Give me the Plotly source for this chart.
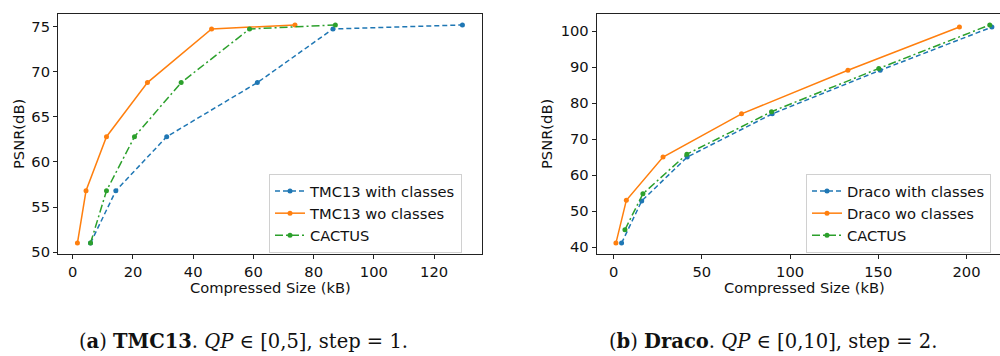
import plotly.graph_objects as go

# ---- data: (a) TMC13 ----
psnr_tmc = [51.0, 56.8, 62.8, 68.8, 74.75, 75.2]
size_tmc_with = [5.9, 14.3, 31.2, 61.3, 86.4, 129.4]
size_tmc_wo = [1.55, 4.4, 11.2, 24.8, 46.1, 73.8]
size_tmc_cactus = [5.9, 11.2, 20.5, 36.0, 58.7, 87.2]

# ---- data: (b) Draco ----
size_draco_with = [4.5, 15.9, 41.7, 89.9, 151.1, 214.4]
psnr_draco_with = [41.1, 52.8, 65.0, 77.0, 89.1, 101.1]
size_draco_wo = [1.3, 7.2, 28.0, 72.5, 132.8, 196.0]
psnr_draco_wo = [41.1, 53.0, 65.0, 77.0, 89.1, 101.1]
size_draco_cactus = [6.4, 16.6, 41.5, 89.5, 150.3, 213.2]
psnr_draco_cactus = [44.8, 54.8, 65.8, 77.6, 89.6, 101.7]

BLUE, ORANGE, GREEN = "#1f77b4", "#ff7f0e", "#2ca02c"
FONT = "DejaVu Sans"
FS = 14.7

fig = go.Figure()

def add(x, y, name, color, dash, xa, ya, legend):
    fig.add_trace(go.Scatter(
        x=x, y=y, name=name, mode="lines+markers",
        line=dict(color=color, width=1.5, dash=dash),
        marker=dict(color=color, size=5),
        xaxis=xa, yaxis=ya, legend=legend))

add(size_tmc_with, psnr_tmc, "TMC13 with classes", BLUE, "5px,3px", "x", "y", "legend")
add(size_tmc_wo, psnr_tmc, "TMC13 wo classes", ORANGE, "solid", "x", "y", "legend")
add(size_tmc_cactus, psnr_tmc, "CACTUS", GREEN, "8px,3px,2px,3px", "x", "y", "legend")

add(size_draco_with, psnr_draco_with, "Draco with classes", BLUE, "5px,3px", "x2", "y2", "legend2")
add(size_draco_wo, psnr_draco_wo, "Draco wo classes", ORANGE, "solid", "x2", "y2", "legend2")
add(size_draco_cactus, psnr_draco_cactus, "CACTUS", GREEN, "8px,3px,2px,3px", "x2", "y2", "legend2")

axis_common = dict(
    showgrid=False, zeroline=False, showline=True, linecolor="#222", linewidth=1.1,
    ticks="outside", ticklen=4, tickwidth=1, tickcolor="#222",
    tickfont=dict(family=FONT, size=FS, color="#111"), automargin=False,
)

legend_common = dict(
    bgcolor="rgba(255,255,255,0.85)", bordercolor="#d0d0d0", borderwidth=1,
    font=dict(family=FONT, size=FS, color="#111"), xanchor="left", yanchor="top",
    tracegroupgap=0, itemwidth=30,
)

ydom = [1 - 254 / 356, 1 - 14 / 356]

fig.update_layout(
    width=1000, height=356, margin=dict(l=0, r=0, t=0, b=0),
    paper_bgcolor="white", plot_bgcolor="white",
    xaxis=dict(domain=[0.058, 0.482], range=[-4.9, 135.9], anchor="y", mirror=True,
               tickvals=[0, 20, 40, 60, 80, 100, 120], **axis_common),
    yaxis=dict(domain=ydom, range=[49.79, 76.41], anchor="x", mirror=True,
               tickvals=[50, 55, 60, 65, 70, 75], **axis_common),
    xaxis2=dict(domain=[0.5967, 1.0], range=[-9.6, 219.0], anchor="y2", mirror=True,
                tickvals=[0, 50, 100, 150, 200], **axis_common),
    yaxis2=dict(domain=ydom, range=[38.07, 104.73], anchor="x2", mirror=False,
                tickvals=[40, 50, 60, 70, 80, 90, 100], **axis_common),
    legend=dict(x=0.269, y=1 - 174 / 356, **legend_common),
    legend2=dict(x=0.806, y=1 - 174 / 356, **legend_common),
    showlegend=True,
)

TF = dict(family=FONT, size=FS, color="#111")
ann = []
ann.append(dict(text="Compressed Size (kB)", x=0.270, y=1 - 287 / 356, xref="paper", yref="paper",
                xanchor="center", yanchor="middle", showarrow=False, font=TF))
ann.append(dict(text="Compressed Size (kB)", x=0.804, y=1 - 287 / 356, xref="paper", yref="paper",
                xanchor="center", yanchor="middle", showarrow=False, font=TF))
ann.append(dict(text="PSNR(dB)", x=0.019, y=1 - 134 / 356, xref="paper", yref="paper",
                xanchor="center", yanchor="middle", showarrow=False, textangle=-90, font=TF))
ann.append(dict(text="PSNR(dB)", x=0.547, y=1 - 134 / 356, xref="paper", yref="paper",
                xanchor="center", yanchor="middle", showarrow=False, textangle=-90, font=TF))
# captions
CAP = dict(family="DejaVu Serif", size=19.5, color="#111")
ann.append(dict(text="(<b>a</b>) <b>TMC13</b>. <i>QP</i> ∈ [0,5], step = 1.", x=0.2435, y=1 - 341 / 356,
                xref="paper", yref="paper", xanchor="center", yanchor="middle", showarrow=False, font=CAP))
ann.append(dict(text="(<b>b</b>) <b>Draco</b>. <i>QP</i> ∈ [0,10], step = 2.", x=0.7725, y=1 - 341 / 356,
                xref="paper", yref="paper", xanchor="center", yanchor="middle", showarrow=False, font=CAP))
fig.update_layout(annotations=ann)

fig.write_html("out.html")
